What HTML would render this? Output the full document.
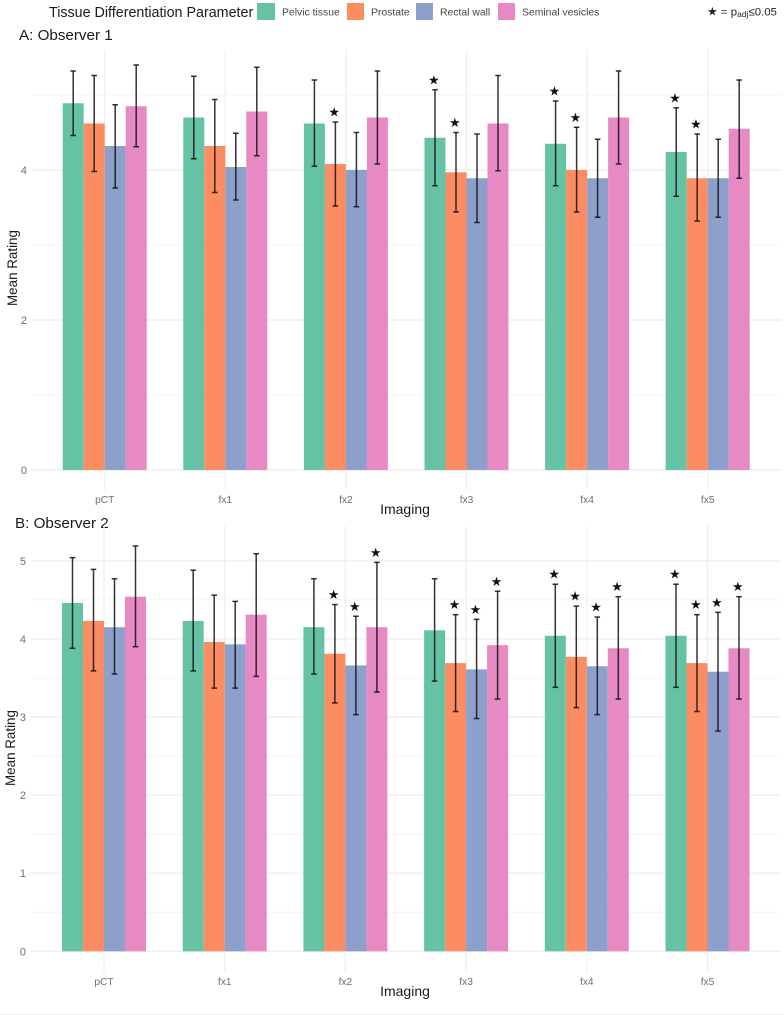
<!DOCTYPE html>
<html lang="en">
<head>
<meta charset="utf-8">
<title>Tissue Differentiation Ratings</title>
<style>
html,body{margin:0;padding:0;background:#fff;}
#chart{display:block;width:784px;height:1015px;font-family:"Liberation Sans",sans-serif;filter:blur(0.35px);}
</style>
</head>
<body>
<svg id="chart" xmlns="http://www.w3.org/2000/svg" width="784" height="1015" viewBox="0 0 784 1015">
  <g>
    <text x="49" y="17" font-size="14.3" fill="#1a1a1a">Tissue Differentiation Parameter</text>
    <rect x="257" y="3" width="18" height="17" fill="#66C2A5"/>
    <text x="282" y="15.5" font-size="10.4" fill="#444">Pelvic tissue</text>
    <rect x="347" y="3" width="17" height="17" fill="#FC8D62"/>
    <text x="371" y="15.5" font-size="10.4" fill="#444">Prostate</text>
    <rect x="416" y="3" width="17" height="17" fill="#8DA0CB"/>
    <text x="440" y="15.5" font-size="10.4" fill="#444">Rectal wall</text>
    <rect x="498" y="3" width="17" height="17" fill="#E78AC3"/>
    <text x="522" y="15.5" font-size="10.4" fill="#444">Seminal vesicles</text>
    <text x="707" y="15.5" font-size="11.4" fill="#222"><tspan font-family="DejaVu Sans" font-size="12">★</tspan> = p<tspan font-size="8.5" dy="1.5">adj</tspan><tspan dy="-1.5">≤0.05</tspan></text>
  </g>
  <text x="19" y="40" font-size="15.2" fill="#1a1a1a">A: Observer 1</text>
  <text x="15" y="528" font-size="15.2" fill="#1a1a1a">B: Observer 2</text>
  <g id="panelA"></g>
  <g id="panelB"></g>
  <line x1="0" x2="784" y1="1014.5" y2="1014.5" stroke="#f0f0f0" stroke-width="1"/>
</svg>
<script>
const categories = ["pCT", "fx1", "fx2", "fx3", "fx4", "fx5"];
const seriesNames = ["pelvic-tissue", "prostate", "rectal-wall", "seminal-vesicles"];
const seriesColors = ["#66C2A5", "#FC8D62", "#8DA0CB", "#E78AC3"];

const obs1YTicks = [0, 2, 4];
const obs1YGrid = [0, 1, 2, 3, 4, 5];
const obs1Pelvic = [4.89, 4.70, 4.62, 4.43, 4.35, 4.24];
const obs1Prostate = [4.62, 4.32, 4.08, 3.97, 4.00, 3.89];
const obs1Rectal = [4.32, 4.04, 4.00, 3.89, 3.89, 3.89];
const obs1Seminal = [4.85, 4.78, 4.70, 4.62, 4.70, 4.55];
const obs1PelvicHigh = [5.32, 5.25, 5.20, 5.07, 4.92, 4.83];
const obs1ProstateHigh = [5.26, 4.94, 4.64, 4.50, 4.57, 4.48];
const obs1RectalHigh = [4.87, 4.49, 4.50, 4.48, 4.41, 4.41];
const obs1SeminalHigh = [5.40, 5.37, 5.32, 5.26, 5.32, 5.20];
const obs1PelvicLow = [4.46, 4.15, 4.05, 3.79, 3.79, 3.65];
const obs1ProstateLow = [3.98, 3.70, 3.52, 3.44, 3.44, 3.32];
const obs1RectalLow = [3.76, 3.60, 3.51, 3.30, 3.37, 3.37];
const obs1SeminalLow = [4.31, 4.19, 4.08, 3.99, 4.08, 3.89];
const obs1PelvicSig = [0, 0, 0, 1, 1, 1];
const obs1ProstateSig = [0, 0, 1, 1, 1, 1];
const obs1RectalSig = [0, 0, 0, 0, 0, 0];
const obs1SeminalSig = [0, 0, 0, 0, 0, 0];

const obs2YTicks = [0, 1, 2, 3, 4, 5];
const obs2YGrid = [0, 0.5, 1, 1.5, 2, 2.5, 3, 3.5, 4, 4.5, 5];
const obs2Pelvic = [4.46, 4.23, 4.15, 4.11, 4.04, 4.04];
const obs2Prostate = [4.23, 3.96, 3.81, 3.69, 3.77, 3.69];
const obs2Rectal = [4.15, 3.93, 3.66, 3.61, 3.65, 3.58];
const obs2Seminal = [4.54, 4.31, 4.15, 3.92, 3.88, 3.88];
const obs2PelvicHigh = [5.04, 4.88, 4.77, 4.77, 4.70, 4.70];
const obs2ProstateHigh = [4.89, 4.56, 4.44, 4.31, 4.42, 4.31];
const obs2RectalHigh = [4.77, 4.48, 4.29, 4.25, 4.28, 4.34];
const obs2SeminalHigh = [5.19, 5.09, 4.98, 4.61, 4.54, 4.54];
const obs2PelvicLow = [3.88, 3.59, 3.55, 3.46, 3.38, 3.38];
const obs2ProstateLow = [3.59, 3.37, 3.18, 3.07, 3.12, 3.07];
const obs2RectalLow = [3.55, 3.37, 3.03, 2.98, 3.03, 2.82];
const obs2SeminalLow = [3.90, 3.52, 3.32, 3.23, 3.23, 3.23];
const obs2PelvicSig = [0, 0, 0, 0, 1, 1];
const obs2ProstateSig = [0, 0, 1, 1, 1, 1];
const obs2RectalSig = [0, 0, 1, 1, 1, 1];
const obs2SeminalSig = [0, 0, 1, 1, 1, 1];

const NS = "http://www.w3.org/2000/svg";

function make(parent, tag, attrs, text) {
  const el = document.createElementNS(NS, tag);
  for (const k in attrs) el.setAttribute(k, attrs[k]);
  if (text !== undefined) el.textContent = text;
  parent.appendChild(el);
  return el;
}

function drawPanel(root, cfg) {
  const xBand = i => cfg.x0 + i * cfg.step;
  const yScale = v => cfg.y0 - v * cfg.unit;
  const barW = 21;

  cfg.grid.forEach(v => {
    const isMajor = cfg.ticks.indexOf(v) >= 0;
    const el = make(root, "line", {
      x1: cfg.left, x2: cfg.right, y1: yScale(v), y2: yScale(v),
      stroke: isMajor ? "#efefef" : "#f4f4f4", "stroke-width": isMajor ? 1.4 : 1
    });
    
    
  });

  categories.forEach((c, i) => {
    const el = make(root, "line", {
      x1: xBand(i), x2: xBand(i), y1: cfg.top, y2: cfg.bottom,
      stroke: "#efefef", "stroke-width": 1.3
    });
    
    
  });

  categories.forEach((c, i) => {
    cfg.means.forEach((vals, s) => {
      const bx = xBand(i) - 2 * barW + s * barW;
      const el = make(root, "rect", {
        x: bx, y: yScale(vals[i]), width: barW, height: yScale(0) - yScale(vals[i]),
        fill: seriesColors[s]
      });
      
      
    });
  });

  categories.forEach((c, i) => {
    cfg.means.forEach((vals, s) => {
      const cx = xBand(i) - 2 * barW + (s + 0.5) * barW;
      const hi = yScale(cfg.highs[s][i]);
      const lo = yScale(cfg.lows[s][i]);
      const g = make(root, "g", { stroke: "#111", "stroke-opacity": 0.85, "stroke-width": 1.5, fill: "none" });
      
      
      make(g, "line", { x1: cx, x2: cx, y1: hi, y2: lo });
      make(g, "line", { x1: cx - 2.8, x2: cx + 2.8, y1: hi, y2: hi });
      make(g, "line", { x1: cx - 2.8, x2: cx + 2.8, y1: lo, y2: lo });
      if (cfg.sigs[s][i]) {
        const st = make(root, "text", {
          x: cx - 1.2, y: hi - 5.5, "text-anchor": "middle",
          "font-family": '"DejaVu Sans", sans-serif', "font-size": 13, fill: "#111"
        }, "★");
        
        
      }
    });
  });

  cfg.ticks.forEach(v => {
    const el = make(root, "text", {
      x: cfg.tickX, y: yScale(v) + 4, "text-anchor": "end", "font-size": 11, fill: "#6e6e6e"
    }, String(v));
    
    
  });

  categories.forEach((c, i) => {
    const el = make(root, "text", {
      x: xBand(i), y: cfg.xTickY, "text-anchor": "middle", "font-size": 10.2, fill: "#6e6e6e"
    }, c);
    
    
  });

  const xt = make(root, "text", {
    x: 405, y: cfg.xTitleY, "text-anchor": "middle", "font-size": 14, fill: "#1a1a1a"
  }, "Imaging");
  
  

  const yt = make(root, "text", {
    transform: "translate(" + cfg.yTitleX + "," + cfg.yTitleY + ") rotate(-90)",
    "text-anchor": "middle", "font-size": 13.4, fill: "#1a1a1a"
  }, "Mean Rating");
  
  
}

drawPanel(document.getElementById("panelA"), {
  x0: 104.7, step: 120.6, y0: 470, unit: 75,
  left: 32, right: 781, top: 50, bottom: 490,
  tickX: 27, xTickY: 503, xTitleY: 514, yTitleX: 17, yTitleY: 268,
  grid: obs1YGrid, ticks: obs1YTicks,
  means: [obs1Pelvic, obs1Prostate, obs1Rectal, obs1Seminal],
  highs: [obs1PelvicHigh, obs1ProstateHigh, obs1RectalHigh, obs1SeminalHigh],
  lows: [obs1PelvicLow, obs1ProstateLow, obs1RectalLow, obs1SeminalLow],
  sigs: [obs1PelvicSig, obs1ProstateSig, obs1RectalSig, obs1SeminalSig]
});

drawPanel(document.getElementById("panelB"), {
  x0: 104, step: 120.7, y0: 951.3, unit: 78.1,
  left: 31, right: 780, top: 526, bottom: 972,
  tickX: 26, xTickY: 985, xTitleY: 996, yTitleX: 15, yTitleY: 748,
  grid: obs2YGrid, ticks: obs2YTicks,
  means: [obs2Pelvic, obs2Prostate, obs2Rectal, obs2Seminal],
  highs: [obs2PelvicHigh, obs2ProstateHigh, obs2RectalHigh, obs2SeminalHigh],
  lows: [obs2PelvicLow, obs2ProstateLow, obs2RectalLow, obs2SeminalLow],
  sigs: [obs2PelvicSig, obs2ProstateSig, obs2RectalSig, obs2SeminalSig]
});
</script>
</body>
</html>
